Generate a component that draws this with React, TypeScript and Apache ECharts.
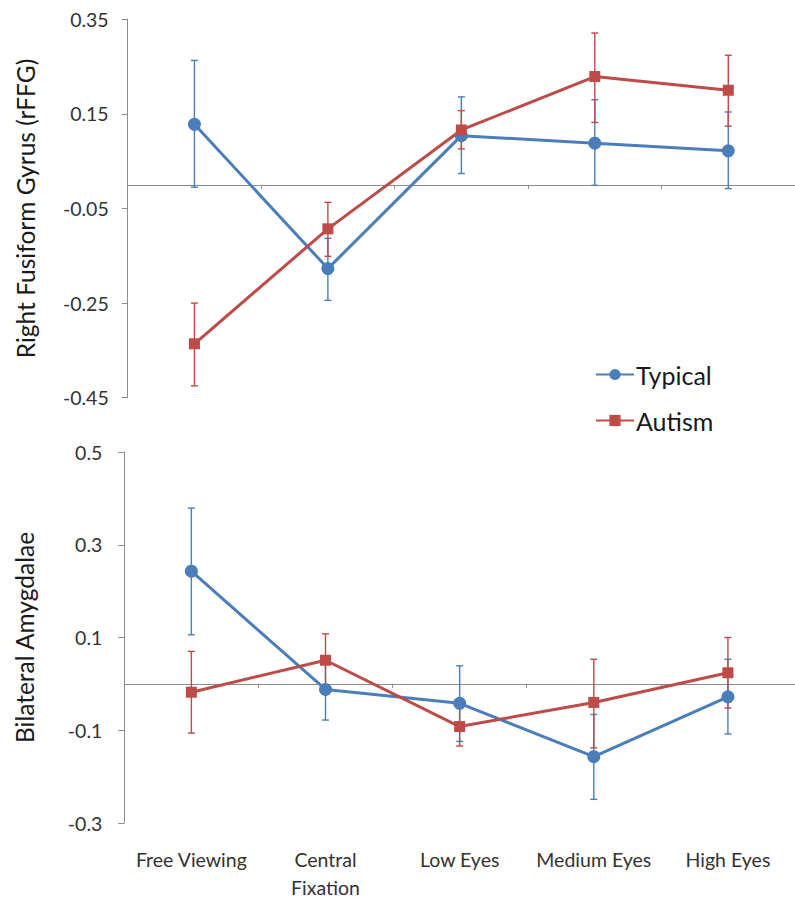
import React, { useEffect, useRef } from "react";
import * as echarts from "echarts";

const categories = ["Free Viewing", "Central\nFixation", "Low Eyes", "Medium Eyes", "High Eyes"];

// Top panel: Right Fusiform Gyrus (rFFG)
const rffgTypical = [0.128, -0.177, 0.104, 0.088, 0.072];
const rffgTypicalHi = [0.263, -0.113, 0.186, 0.18, 0.154];
const rffgTypicalLo = [-0.005, -0.244, 0.024, -0.001, -0.008];
const rffgAutism = [-0.336, -0.093, 0.116, 0.229, 0.2];
const rffgAutismHi = [-0.25, -0.037, 0.157, 0.321, 0.274];
const rffgAutismLo = [-0.425, -0.151, 0.076, 0.132, 0.124];

// Bottom panel: Bilateral Amygdalae
const amyTypical = [0.243, -0.012, -0.042, -0.157, -0.028];
const amyTypicalHi = [0.379, 0.054, 0.039, -0.066, 0.053];
const amyTypicalLo = [0.106, -0.078, -0.124, -0.249, -0.108];
const amyAutism = [-0.018, 0.051, -0.092, -0.04, 0.024];
const amyAutismHi = [0.07, 0.108, -0.05, 0.053, 0.1];
const amyAutismLo = [-0.106, -0.006, -0.134, -0.138, -0.052];

const topTicks = { min: -0.45, max: 0.35, interval: 0.2, digits: 2 };
const bottomTicks = { min: -0.3, max: 0.5, interval: 0.2, digits: 1 };

const BLUE = "#4A7EBB";
const RED = "#BE4B48";
const AXIS = "#8C8C8C";
const FONT = "Lato, 'Open Sans', sans-serif";

function errorSeries(name: string, color: string, lo: number[], hi: number[], axisIdx: number, xIdx: number) {
  return {
    type: "custom",
    name: name + " error",
    xAxisIndex: xIdx,
    yAxisIndex: axisIdx,
    z: 3,
    silent: true,
    data: lo.map((l, i) => [i, l, hi[i]]),
    renderItem: (params: any, api: any) => {
      const i = api.value(0);
      const pLo = api.coord([i, api.value(1)]);
      const pHi = api.coord([i, api.value(2)]);
      const w = 3.5;
      const style = { stroke: color, lineWidth: 1.4 };
      return {
        type: "group",
        children: [
          { type: "line", shape: { x1: pLo[0], y1: pLo[1], x2: pHi[0], y2: pHi[1] }, style },
          { type: "line", shape: { x1: pHi[0] - w, y1: pHi[1], x2: pHi[0] + w, y2: pHi[1] }, style },
          { type: "line", shape: { x1: pLo[0] - w, y1: pLo[1], x2: pLo[0] + w, y2: pLo[1] }, style },
        ],
      };
    },
  };
}

function lineSeries(name: string, color: string, data: number[], symbol: string, size: number, yIdx: number, xIdx: number) {
  return {
    type: "line",
    name,
    xAxisIndex: xIdx,
    yAxisIndex: yIdx,
    data,
    symbol,
    symbolSize: size,
    z: 4,
    lineStyle: { color, width: 3 },
    itemStyle: { color },
  };
}

export default function App() {
  const ref = useRef<HTMLDivElement>(null);
  useEffect(() => {
    if (!ref.current) return;
    const chart = echarts.init(ref.current, undefined, { renderer: "svg" });
    const yAxisBase = (t: any, gridIndex: number, name: string, margin: number, nameGap: number) => ({
      type: "value",
      gridIndex,
      min: t.min,
      max: t.max,
      interval: t.interval,
      name,
      nameLocation: "middle",
      nameRotate: 90,
      nameGap,
      nameTextStyle: { fontFamily: FONT, fontSize: 24.5, color: "#1a1a1a" },
      axisLine: { show: true, lineStyle: { color: AXIS, width: 1 } },
      axisTick: { show: true, length: 6, lineStyle: { color: AXIS } },
      splitLine: { show: false },
      axisLabel: {
        margin,
        fontFamily: FONT,
        fontSize: 19.5,
        color: "#333",
        formatter: (v: number) => v.toFixed(t.digits),
      },
    });
    const xZero = (gridIndex: number) => ({
      type: "category",
      gridIndex,
      data: categories,
      boundaryGap: true,
      axisLine: { show: true, onZero: true, lineStyle: { color: AXIS, width: 1 } },
      axisTick: { show: true, length: 4, lineStyle: { color: AXIS } },
      axisLabel: { show: false },
      splitLine: { show: false },
    });
    chart.setOption({
      animation: false,
      grid: [
        { left: 127.7, top: 19.3, width: 671.5, height: 378.4 },
        { left: 124.3, top: 452, width: 682.5, height: 378 },
      ],
      legend: {
        data: ["Typical", "Autism"],
        orient: "vertical",
        left: 595,
        top: 362,
        padding: 0,
        itemWidth: 38,
        itemHeight: 14,
        itemGap: 21,
        textStyle: { fontFamily: FONT, fontSize: 25, color: "#1a1a1a", padding: [0, 0, 0, -3] },
      },
      xAxis: [
        xZero(0),
        xZero(1),
        {
          type: "category",
          gridIndex: 1,
          data: categories,
          position: "bottom",
          boundaryGap: true,
          axisLine: { show: false, onZero: false },
          axisTick: { show: false },
          axisLabel: { margin: 23, fontFamily: FONT, fontSize: 19.5, color: "#333", lineHeight: 27.5, interval: 0 },
        },
      ],
      yAxis: [
        yAxisBase(topTicks, 0, "Right Fusiform Gyrus (rFFG)", 19, 89.5),
        yAxisBase(bottomTicks, 1, "Bilateral Amygdalae", 22, 87),
      ],
      series: [
        lineSeries("Typical", BLUE, rffgTypical, "circle", 13, 0, 0),
        lineSeries("Autism", RED, rffgAutism, "rect", 11, 0, 0),
        errorSeries("Typical", BLUE, rffgTypicalLo, rffgTypicalHi, 0, 0),
        errorSeries("Autism", RED, rffgAutismLo, rffgAutismHi, 0, 0),
        lineSeries("Typical", BLUE, amyTypical, "circle", 13, 1, 1),
        lineSeries("Autism", RED, amyAutism, "rect", 11, 1, 1),
        errorSeries("Typical", BLUE, amyTypicalLo, amyTypicalHi, 1, 1),
        errorSeries("Autism", RED, amyAutismLo, amyAutismHi, 1, 1),
      ],
    });
    return () => chart.dispose();
  }, []);
  return (
    <div
      ref={ref}
      style={{ position: "fixed", left: 0, top: 0, width: 795, height: 901, background: "#fff" }}
    />
  );
}
